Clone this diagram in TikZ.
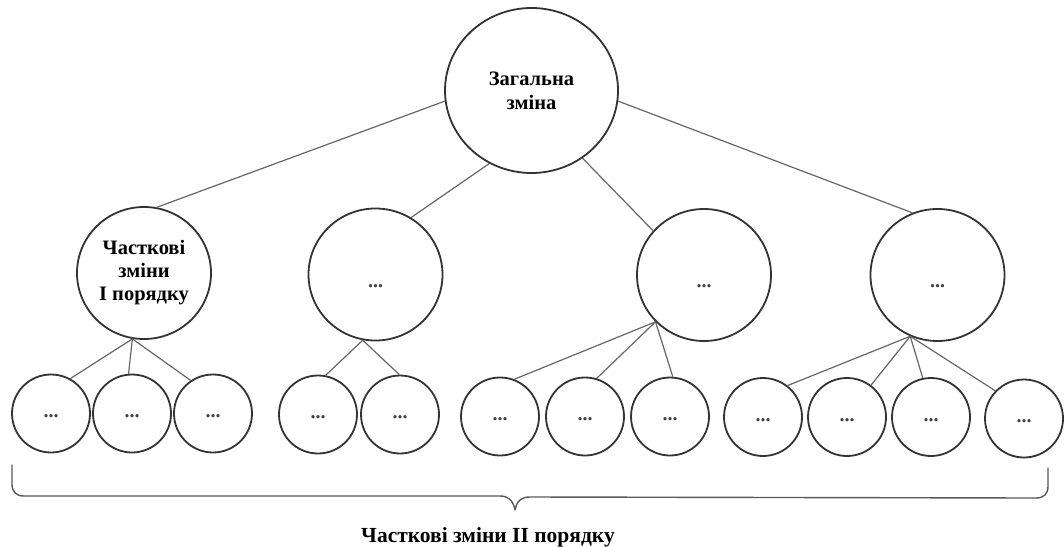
\documentclass[tikz,border=0pt]{standalone}
\usepackage{fontspec}
\setmainfont{Liberation Serif}
\usetikzlibrary{shapes.geometric}
\begin{document}
\begin{tikzpicture}[x=1pt,y=-1pt,
  bigc/.style={draw=black!80,line width=1.8pt,ellipse,inner sep=0pt,minimum width=173pt,minimum height=165pt,align=center,font=\fontsize{20.5}{24}\selectfont\bfseries},
  midc/.style={draw=black!80,line width=1.8pt,ellipse,inner sep=0pt,minimum width=134pt,minimum height=132pt,align=center,font=\fontsize{20.5}{23}\selectfont\bfseries},
  smallc/.style={draw=black!80,line width=1.8pt,circle,inner sep=0pt,minimum size=78pt},
  dotsfont/.style={font=\fontsize{20}{20}\selectfont\bfseries,anchor=base,inner sep=0pt,text=black!75},
  link/.style={draw=black!60,line width=1.2pt},
  bracepath/.style={draw=black!65,line width=1.4pt,line cap=round,line join=round},
  lbl/.style={font=\fontsize{21.5}{24}\selectfont\bfseries,inner sep=0pt}]
\useasboundingbox (0,0) rectangle (1064,546);
\node[bigc] (root) at (531.5,90.5) {Загальна\\зміна};
\node[midc] (a) at (144,273) {Часткові\\зміни\\І порядку};
\node[midc] (b) at (375.5,274.5) {};
\node[midc] (c) at (704,275) {};
\node[midc] (d) at (937.5,275) {};
\node[dotsfont] (bd) at (375.5,287) {...};
\node[dotsfont] (cd) at (704,287) {...};
\node[dotsfont] (dd) at (937.5,287) {...};
\foreach \n/\x/\y in {s1/51/413.5, s2/132/413.5, s3/213/413.5, s4/318/414.5, s5/400/414.5, s6/500/416.5, s7/585/416.5, s8/670/416.5, s9/763/417, s10/847/417, s11/931/417, s12/1024/418.5}{
  \node[smallc] (\n) at (\x,\y) {};
  \node[dotsfont] (\n d) at (\x,\y+4) {...};
}
\draw[link] (root.187) -- (a.79);
\draw[link] (root.240) -- (b.58);
\draw[link] (root.307) -- (c.139);
\draw[link] (root.353) -- (d.112);
\draw[link] (a.260) -- (s1.61);
\draw[link] (a.260) -- (s2.95);
\draw[link] (a.260) -- (s3.124);
\draw[link] (b.259) -- (s4.79);
\draw[link] (b.259) -- (s5.91);
\draw[link] (c.224) -- (s6.69);
\draw[link] (c.224) -- (s7.73);
\draw[link] (c.224) -- (s8.86);
\draw[link] (d.246) -- (s9.52);
\draw[link] (d.246) -- (s10.53);
\draw[link] (d.246) -- (s11.102);
\draw[link] (d.246) -- (s12.136);
\draw[bracepath] (12,465) -- (12,484) .. controls (12,492) and (16,496) .. (24,496) -- (500,496) .. controls (508,496) and (513,500) .. (515,510) .. controls (517,500) and (522,497) .. (530,497) -- (1036,498) .. controls (1044,498) and (1048,494) .. (1048,486) -- (1048,468);
\node[lbl] (label) at (488,537) {Часткові зміни II порядку};
\end{tikzpicture}
\end{document}
